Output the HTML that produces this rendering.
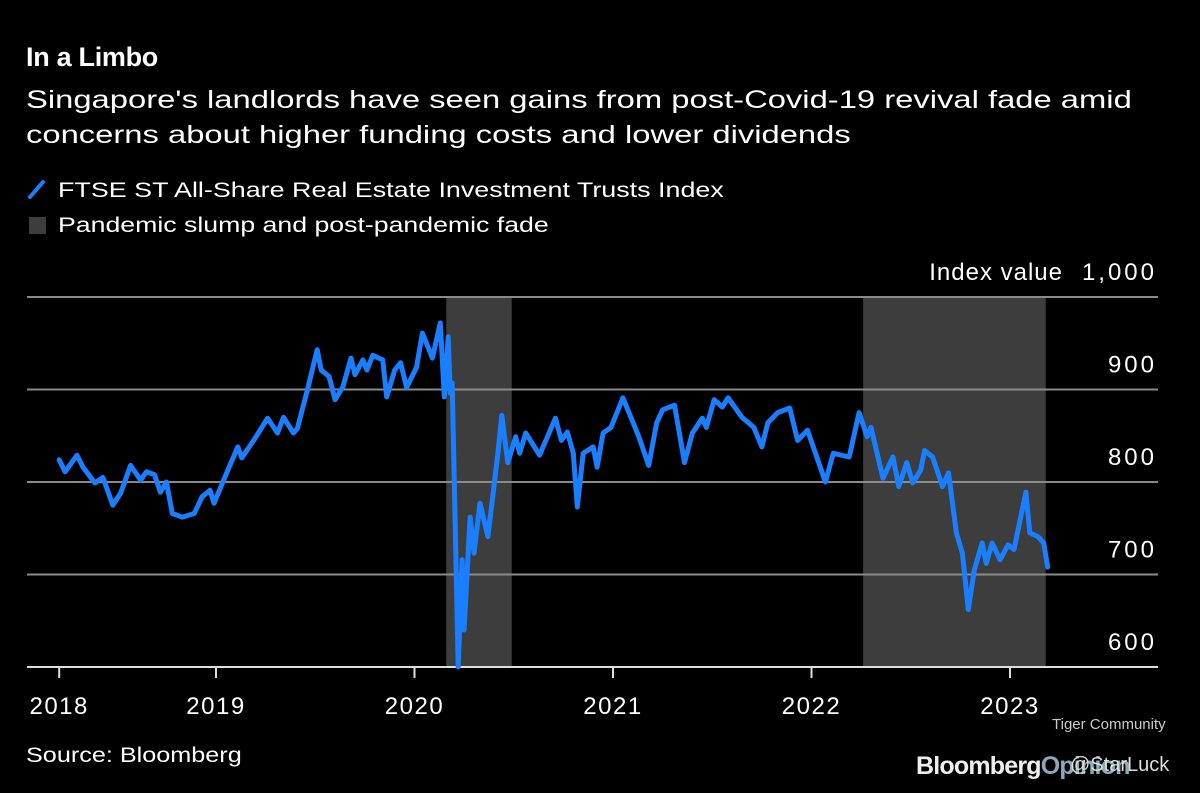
<!DOCTYPE html>
<html><head><meta charset="utf-8"><style>
body{margin:0;background:#000;width:1200px;height:793px;overflow:hidden;font-family:"Liberation Sans",sans-serif;color:#fff}
.t{position:absolute;white-space:nowrap;transform-origin:0 0}
</style></head><body>
<div class="t" style="left:26px;top:42px;font-size:27px;font-weight:bold;letter-spacing:-0.3px">In a Limbo</div>
<div class="t" style="left:26px;top:83px;font-size:25px;line-height:35px;transform:scaleX(1.31)">Singapore's landlords have seen gains from post-Covid-19 revival fade amid<br>concerns about higher funding costs and lower dividends</div>
<div class="t" style="left:26px;top:178px;font-size:21px"><svg width="22" height="22" style="vertical-align:-3px;margin-right:10px"><line x1="4" y1="19" x2="17" y2="4" stroke="#1a7fff" stroke-width="4" stroke-linecap="round"/></svg><span style="display:inline-block;transform:scaleX(1.28);transform-origin:0 0">FTSE ST All-Share Real Estate Investment Trusts Index</span></div>
<div class="t" style="left:26px;top:214px;font-size:21px"><span style="display:inline-block;width:17px;height:17px;background:#3d3d3d;vertical-align:-2px;margin-right:12px;margin-left:3px"></span><span style="display:inline-block;transform:scaleX(1.27);transform-origin:0 0">Pandemic slump and post-pandemic fade</span></div>
<svg id="chart" width="1200" height="793" style="position:absolute;left:0;top:0"></svg>
<div class="t" style="left:26px;top:744px;font-size:21px;transform:scaleX(1.2)">Source: Bloomberg</div>
<div class="t" style="left:1052px;top:716px;font-size:15px;color:#ccc">Tiger Community</div>
<div class="t" style="left:916px;top:752px;font-size:25px;font-weight:bold;color:#eee;letter-spacing:-0.8px">Bloomberg<span style="color:#8ab">Opinion</span></div>
<div class="t" style="left:1070px;top:754px;font-size:20px;color:#ddd">@StarLuck</div>
<script>
const dates=[2018.21,2018.24,2018.30,2018.33,2018.39,2018.43,2018.48,2018.52,2018.57,2018.62,2018.65,2018.69,2018.72,2018.75,2018.78,2018.83,2018.89,2018.93,2018.97,2018.99,2019.06,2019.11,2019.13,2019.19,2019.26,2019.31,2019.34,2019.39,2019.41,2019.46,2019.51,2019.53,2019.57,2019.60,2019.64,2019.68,2019.70,2019.74,2019.76,2019.79,2019.84,2019.86,2019.90,2019.93,2019.96,2020.01,2020.04,2020.09,2020.13,2020.15,2020.17,2020.18,2020.19,2020.22,2020.24,2020.25,2020.28,2020.30,2020.33,2020.37,2020.39,2020.42,2020.44,2020.47,2020.51,2020.53,2020.56,2020.63,2020.71,2020.74,2020.77,2020.80,2020.82,2020.85,2020.90,2020.92,2020.95,2020.99,2021.05,2021.09,2021.13,2021.18,2021.22,2021.25,2021.31,2021.36,2021.40,2021.45,2021.47,2021.51,2021.55,2021.58,2021.65,2021.71,2021.75,2021.78,2021.83,2021.89,2021.93,2021.98,2022.02,2022.07,2022.11,2022.19,2022.24,2022.28,2022.30,2022.36,2022.41,2022.44,2022.48,2022.51,2022.55,2022.57,2022.61,2022.66,2022.69,2022.73,2022.76,2022.79,2022.82,2022.86,2022.88,2022.91,2022.95,2022.99,2023.02,2023.08,2023.10,2023.14,2023.17,2023.19];
const values=[824,811,829,816,799,805,775,788,818,802,811,808,789,800,766,762,766,784,791,777,813,838,826,845,869,853,870,853,858,899,943,921,914,889,903,934,916,932,921,937,932,892,921,929,902,924,961,934,972,892,957,896,907,600,716,640,762,723,777,741,777,831,872,821,849,831,853,829,869,845,854,831,773,831,838,816,853,859,891,870,849,818,864,878,883,821,853,869,859,889,881,891,870,859,838,864,875,880,845,856,831,800,831,827,875,849,859,804,827,795,821,799,813,834,827,795,810,745,723,662,705,734,712,734,716,732,727,789,745,741,734,708];
const shadeStarts=[2020.16,2022.26];
const shadeEnds=[2020.49,2023.18];
const yTicks=[600,700,800,900,1000];
const yTickLabels=["600","700","800","900","1,000"];
const xTicks=[2018.21,2019,2020,2021,2022,2023];
const xTickLabels=["2018","2019","2020","2021","2022","2023"];
const NS="http://www.w3.org/2000/svg";
const svg=document.getElementById('chart');
const X=t=>216+(t-2019)*198.5;
const Y=v=>667-(v-600)*0.925;
function mk(tag,a){const e=document.createElementNS(NS,tag);for(const k in a)e.setAttribute(k,a[k]);svg.appendChild(e);return e;}
for(let i=0;i<shadeStarts.length;i++){
 const r=mk('rect',{x:X(shadeStarts[i]),y:297,width:X(shadeEnds[i])-X(shadeStarts[i]),height:370,fill:'#3d3d3d'});
 
 
}
yTicks.forEach((v,i)=>{
 if(v>600){const l=mk('line',{x1:27,x2:1158,y1:Y(v),y2:Y(v),stroke:'#8a8a8a','stroke-width':2});
 
 }
 const t=mk('text',{x:1157,y:Y(v)-17,'text-anchor':'end',fill:'#fff','font-size':24,'letter-spacing':3,'font-family':'Liberation Sans, sans-serif'});
 t.textContent=yTickLabels[i];
 
 
});
const it=mk('text',{x:1063,y:Y(1000)-17,'text-anchor':'end',fill:'#fff','font-size':24,'letter-spacing':1,'font-family':'Liberation Sans, sans-serif'});
it.textContent='Index value';


const ax=mk('line',{x1:27,x2:1158,y1:667,y2:667,stroke:'#ddd','stroke-width':2});


xTicks.forEach((t,i)=>{
 const tk=mk('line',{x1:X(t),x2:X(t),y1:667,y2:678,stroke:'#ddd','stroke-width':2});
 
 
 const tx=mk('text',{x:X(t),y:714,'text-anchor':'middle',fill:'#fff','font-size':24,'letter-spacing':1.5,'font-family':'Liberation Sans, sans-serif'});
 tx.textContent=xTickLabels[i];
 
 
});
const d=dates.map((t,i)=>(i?'L':'M')+X(t).toFixed(1)+','+Y(values[i]).toFixed(1)).join('');
const p=mk('path',{d:d,fill:'none',stroke:'#1a7fff','stroke-width':5,'stroke-linejoin':'round','stroke-linecap':'round'});


</script>
</body></html>
